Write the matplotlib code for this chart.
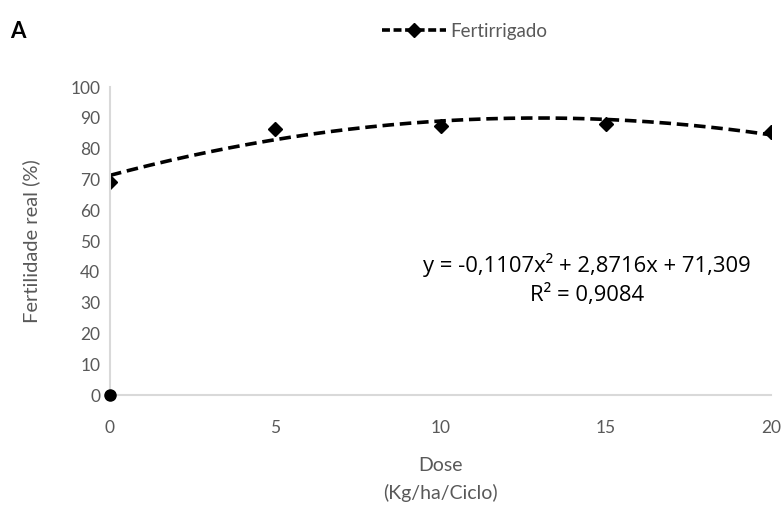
import numpy as np
import matplotlib
matplotlib.use("Agg")
import matplotlib.pyplot as plt
from matplotlib.lines import Line2D

plt.rcParams['font.family'] = ['Lato', 'DejaVu Sans']

dose = [0, 5, 10, 15, 20]
fertilidade = [69.0, 86.5, 87.3, 88.0, 85.3]
origin_x = [0]
origin_y = [0]
coef = [-0.1107, 2.8716, 71.309]   # a, b, c of the quadratic trend
r2 = 0.9084
x_ticks = [0, 5, 10, 15, 20]
y_ticks = list(range(0, 101, 10))

grey = '#595959'
axis_grey = '#d9d9d9'

fig = plt.figure(figsize=(7.84, 5.05), dpi=100)
ax = fig.add_axes([110/784, 110/505, 661/784, 308/505])

ax.plot(dose, fertilidade, linestyle='none', marker='D', color='black', markersize=7)
ax.plot(origin_x, origin_y, linestyle='none', marker='o', color='black', markersize=8, clip_on=False, zorder=5)

xs = np.linspace(0, 20, 200)
ys = np.polyval(coef, xs)
ax.plot(xs, ys, linestyle=(0, (3.2, 1.6)), color='black', linewidth=2.6)

ax.set_xlim(0, 20)
ax.set_ylim(0, 100)
ax.set_xticks(x_ticks)
ax.set_yticks(y_ticks)
ax.tick_params(length=0, labelsize=12.5, colors=grey)
ax.tick_params(axis='y', pad=7)
ax.tick_params(axis='x', pad=18)
for s in ['top', 'right']:
    ax.spines[s].set_visible(False)
for s in ['left', 'bottom']:
    ax.spines[s].set_color(axis_grey)
    ax.spines[s].set_linewidth(1.5)

ax.set_xlabel('Dose\n(Kg/ha/Ciclo)', fontsize=14, color=grey, labelpad=15, linespacing=1.65)
ax.set_ylabel('Fertilidade real (%)', fontsize=14.5, color=grey, labelpad=22)

a, b, c = coef
eq = 'y = {}x² + {}x + {}'.format(f'{a:.4f}'.replace('.', ','),
                                   f'{b:.4f}'.replace('.', ','),
                                   f'{c:.3f}'.replace('.', ','))
eq_font = ['Open Sans', 'DejaVu Sans']
fig.text(587/784, 1 - 265/505, eq, ha='center', va='center', fontsize=15.8,
         color='black', family=eq_font)
fig.text(587/784, 1 - 295/505, 'R² = ' + f'{r2:.4f}'.replace('.', ','),
         ha='center', va='center', fontsize=15.8, color='black', family=eq_font)

fig.text(10/784, 1 - 32/505, 'A', fontsize=16, fontweight='bold', color='black', va='center')

handle = Line2D([], [], color='black', linestyle=(0, (2.2, 1.0)), linewidth=2.6,
                marker='D', markersize=7)
fig.legend([handle], ['Fertirrigado'], loc='center', bbox_to_anchor=(465/784, 1 - 31/505),
           frameon=False, fontsize=13.5, labelcolor=grey, handlelength=3.4, handletextpad=0.25)

fig.savefig('out.png', dpi=100, facecolor='white')
